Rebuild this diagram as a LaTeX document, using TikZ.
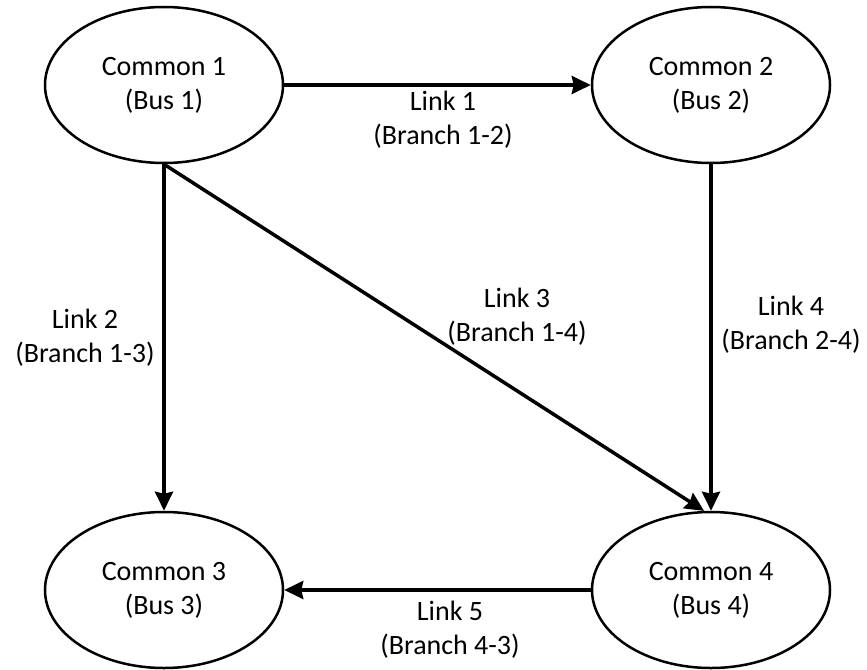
\documentclass[tikz,border=0pt]{standalone}
\usepackage{fontspec}
\setmainfont{Carlito}
\usetikzlibrary{shapes.geometric,arrows.meta}

\tikzset{
  bus/.style={ellipse, draw, line width=2.5pt, inner sep=0pt,
    minimum width=238pt, minimum height=156pt, align=center,
    font=\fontsize{28}{34}\selectfont},
  link/.style={line width=3.5pt,
    -{Stealth[length=19pt, width=18pt, inset=2pt]}},
  lbl/.style={align=center, inner sep=0pt,
    font=\fontsize{28}{34}\selectfont}
}

\begin{document}
\begin{tikzpicture}[x=1pt, y=-1pt]
  \useasboundingbox (0,0) rectangle (867,669);

  % buses
  \node[bus] (n1) at (164,85)  {Common 1\\(Bus 1)};
  \node[bus] (n2) at (711,85)  {Common 2\\(Bus 2)};
  \node[bus] (n3) at (164,590) {Common 3\\(Bus 3)};
  \node[bus] (n4) at (711,590) {Common 4\\(Bus 4)};

  % branches
  \draw[link] (n1.east) -- (n2.west);
  \draw[link] (n1.south) -- (n3.north);
  \draw[link] (n1.south) -- (n4.95);
  \draw[link] (n2.south) -- (n4.north);
  \draw[link] (n4.west) -- (n3.east);

  % branch labels
  \node[lbl] (l1) at (443,120) {Link 1\\(Branch 1-2)};
  \node[lbl] (l2) at (85,338)  {Link 2\\(Branch 1-3)};
  \node[lbl] (l3) at (517,317) {Link 3\\(Branch 1-4)};
  \node[lbl] (l4) at (791,325) {Link 4\\(Branch 2-4)};
  \node[lbl] (l5) at (450,630) {Link 5\\(Branch 4-3)};
\end{tikzpicture}
\end{document}
